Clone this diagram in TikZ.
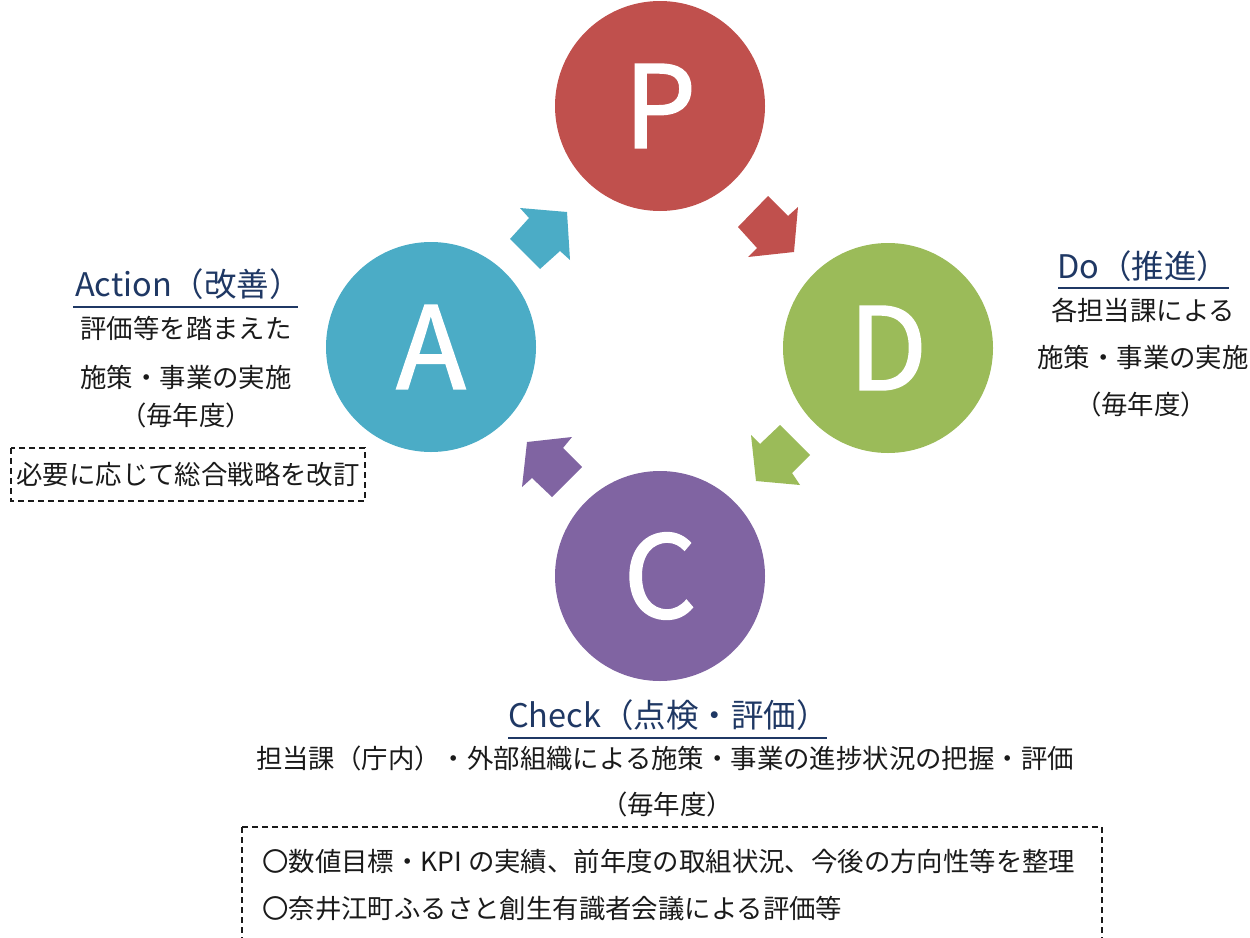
\documentclass[tikz,border=0pt]{standalone}
\usepackage{fontspec}
\newfontfamily\jp{Noto Sans CJK JP}
\newfontfamily\jpfb[FakeBold=1.6]{Noto Sans CJK JP}
\definecolor{cP}{HTML}{C0504D}
\definecolor{cD}{HTML}{9BBB59}
\definecolor{cA}{HTML}{4BACC6}
\definecolor{cC}{HTML}{8064A2}
\definecolor{ttl}{HTML}{1F3864}
\definecolor{txt}{HTML}{1A1A1A}
\newcommand{\phl}[1]{\raisebox{-8pt}{#1}}
\tikzset{
  phase/.style={circle, inner sep=0pt, minimum size=210pt, text=white, font=\jpfb\fontsize{114}{120}\selectfont},
  title/.style={inner sep=0pt, text=ttl, font=\jp\fontsize{32.5}{36}\selectfont},
  body/.style={inner sep=0pt, text=txt, font=\jp\fontsize{26.4}{30}\selectfont},
  uline/.style={draw=ttl, line width=2pt},
  dbox/.style={draw=txt, line width=1.5pt, dash pattern=on 6pt off 4pt},
}
\begin{document}
\begin{tikzpicture}[x=1pt,y=-1pt]
\useasboundingbox (0,0) rectangle (1250,937);
% circles
\node[phase, fill=cP] (P) at (660,106) {\phl{P}};
\node[phase, fill=cD] (D) at (888,348) {\phl{D}};
\node[phase, fill=cA] (A) at (431,347) {\phl{A}};
\node[phase, fill=cC] (C) at (660,576) {\phl{C}};
% block arrows
\fill[cA] (520,208) -- (567,212) -- (570,260) -- (560,251) -- (540,269) -- (510,239) -- (529,218) -- cycle;
\fill[cP] (768,196) -- (788,216) -- (798,207) -- (794,252) -- (748,257) -- (757,248) -- (738,227) -- cycle;
\fill[cD] (780,425) -- (810,455) -- (792,473) -- (800,485) -- (756,481) -- (751,435) -- (760,444) -- cycle;
\fill[cC] (527,442) -- (572,437) -- (563,448) -- (582,467) -- (552,497) -- (532,478) -- (522,487) -- cycle;
% Action
\node[title, anchor=west] (at) at (75,284) {Action（改善）};
\coordinate (au1) at (73,307);
\coordinate (au2) at (298,307);
\draw[uline] (au1) -- (au2);
\node[body] (a1) at (186,328) {評価等を踏まえた};
\node[body] (a2) at (186,377) {施策・事業の実施};
\node[body] (a3) at (186,415) {（毎年度）};
\node[body] (a4) at (188,474) {必要に応じて総合戦略を改訂};
\coordinate (ab1) at (11,448);
\coordinate (ab2) at (365,501);
\draw[dbox] (ab1) rectangle (ab2);
% Do
\node[title, anchor=west] (dt) at (1057,266) {Do（推進）};
\coordinate (du1) at (1058,288);
\coordinate (du2) at (1229,288);
\draw[uline] (du1) -- (du2);
\node[body] (d1) at (1143,310) {各担当課による};
\node[body] (d2) at (1143,357) {施策・事業の実施};
\node[body] (d3) at (1141,404) {（毎年度）};
% Check
\node[title, anchor=west] (ct) at (508,715) {Check（点検・評価）};
\coordinate (cu1) at (508,738);
\coordinate (cu2) at (827,738);
\draw[uline] (cu1) -- (cu2);
\node[body] (c1) at (665,758) {担当課（庁内）・外部組織による施策・事業の進捗状況の把握・評価};
\node[body] (c2) at (667,804) {（毎年度）};
\node[body, anchor=west] (c3) at (262,861) {〇数値目標・KPI の実績、前年度の取組状況、今後の方向性等を整理};
\node[body, anchor=west] (c4) at (262,909) {〇奈井江町ふるさと創生有識者会議による評価等};
\coordinate (cb1) at (242,827);
\coordinate (cb2) at (1102,960);
\draw[dbox] (cb1) rectangle (cb2);
\end{tikzpicture}
\end{document}
